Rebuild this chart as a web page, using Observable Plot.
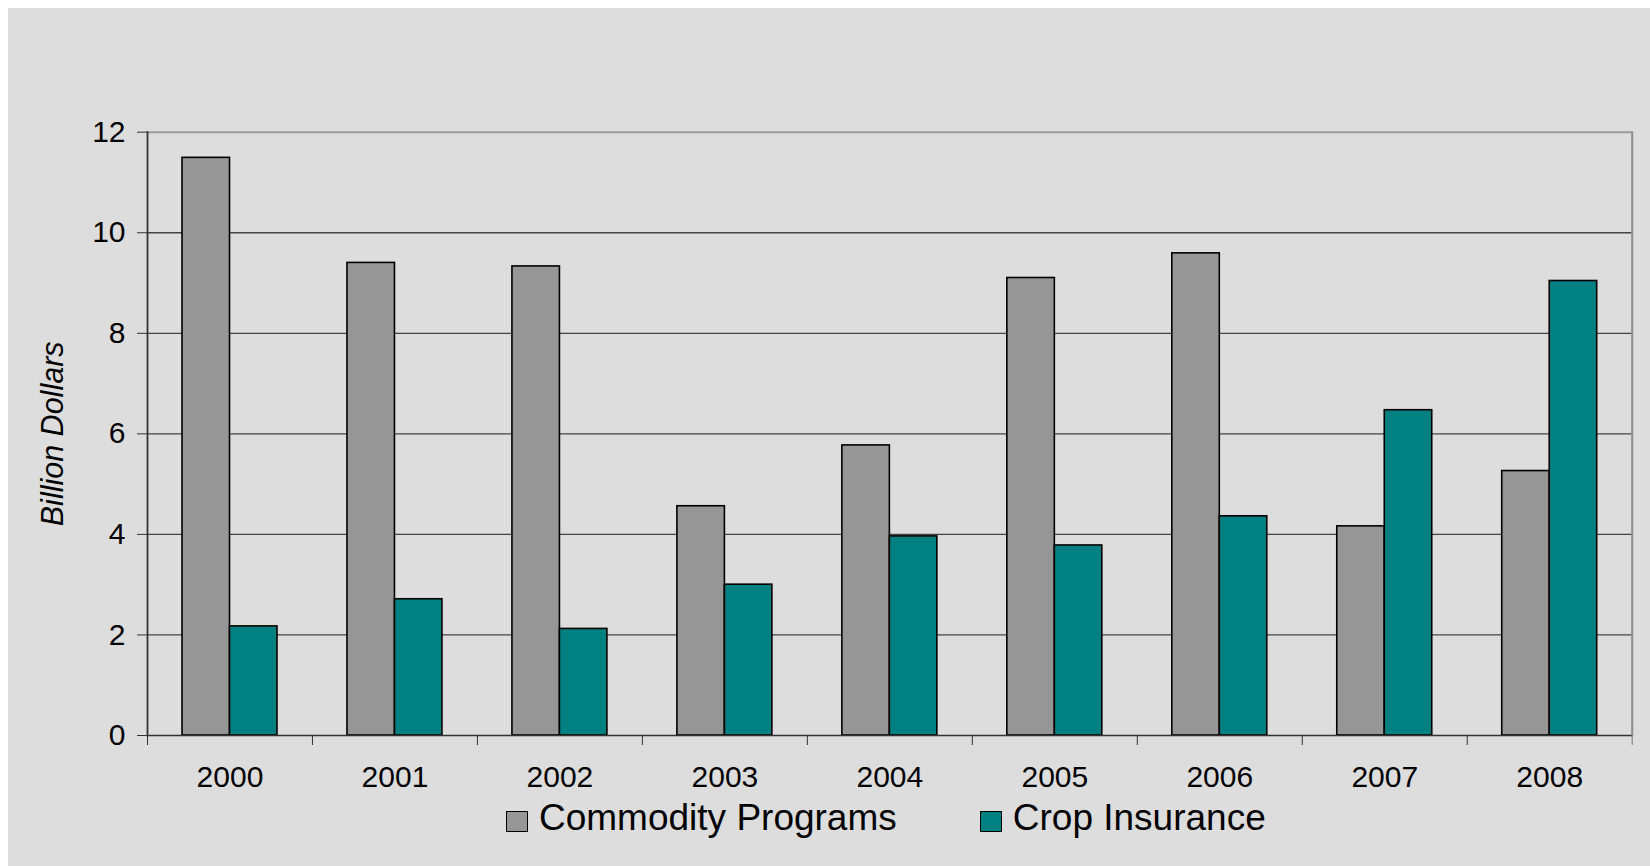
<!DOCTYPE html>
<html>
<head>
<meta charset="utf-8">
<script src="https://cdn.jsdelivr.net/npm/d3@7"></script>
<script src="https://cdn.jsdelivr.net/npm/@observablehq/plot@0.6"></script>
<style>
  html, body { margin: 0; padding: 0; background: #ffffff; }
  #panel {
    position: absolute; left: 8px; top: 8px; width: 1642px; height: 858px;
    background: #dddddd; overflow: hidden;
    font-family: "Liberation Sans", Arial, sans-serif;
  }
  #chart { position: absolute; left: 0; top: 0; }
  #legend {
    position: absolute; left: 498px; top: 789px;
    display: flex; align-items: center; color: #000; font-size: 37px;
  }
  .swatch {
    width: 22px; height: 21px; box-sizing: border-box;
    border: 1.5px solid #000; margin-right: 11px; position: relative; top: 3px;
  }
  .item { display: flex; align-items: center; }
  .item + .item { margin-left: 83px; }
</style>
</head>
<body>
<div id="panel">
  <div id="chart"></div>
  <div id="legend"></div>
</div>
<script>
// Federal outlays, billion dollars, by fiscal year
const years = ["2000", "2001", "2002", "2003", "2004", "2005", "2006", "2007", "2008"];
const commodityPrograms = [11.49, 9.40, 9.33, 4.56, 5.77, 9.10, 9.59, 4.16, 5.26];
const cropInsurance = [2.17, 2.71, 2.12, 3.00, 3.96, 3.78, 4.36, 6.47, 9.04];
const seriesNames = ["Commodity Programs", "Crop Insurance"];
const seriesColors = ["#969696", "#008080"];
const yTicks = [0, 2, 4, 6, 8, 10, 12];

const rows = years.map((year, i) => ({
  year,
  commodity: commodityPrograms[i],
  insurance: cropInsurance[i]
}));

const W = 1642, H = 790;
const mL = 139, mR = 18.3, mT = 123.7, mB = 63;
const step = (W - mL - mR) / years.length;
const barW = 47.5, edgeGap = 35;
const font = "Liberation Sans, Arial, sans-serif";

const chart = Plot.plot({
  width: W,
  height: H,
  marginLeft: mL,
  marginRight: mR,
  marginTop: mT,
  marginBottom: mB,
  style: { background: "transparent", fontFamily: font, color: "#000", overflow: "visible" },
  x: { type: "band", domain: years, paddingInner: 0, paddingOuter: 0, round: false },
  y: { domain: [0, 12] },
  marks: [
    // horizontal gridlines
    Plot.ruleY(yTicks.filter(v => v > 0 && v < 12), { stroke: "#444", strokeWidth: 1.3 }),
    Plot.ruleY([12], { stroke: "#9a9a9a", strokeWidth: 2 }),
    Plot.frame({ anchor: "right", stroke: "#8c8c8c", strokeWidth: 2 }),
    // bars
    Plot.barY(rows, {
      x: "year", y: "commodity", fill: seriesColors[0], stroke: "#000", strokeWidth: 1.6,
      insetLeft: edgeGap, insetRight: step - edgeGap - barW
    }),
    Plot.barY(rows, {
      x: "year", y: "insurance", fill: seriesColors[1], stroke: "#000", strokeWidth: 1.6,
      insetLeft: edgeGap + barW, insetRight: edgeGap
    }),
    // axis lines
    Plot.ruleY([0], { stroke: "#333", strokeWidth: 1.5 }),
    Plot.frame({ anchor: "left", stroke: "#333", strokeWidth: 1.8 }),
    // y axis
    Plot.axisY({
      ticks: yTicks, tickSize: 10, tickPadding: 12, fontSize: 30,
      stroke: "#333", label: null, tickFormat: d => String(d)
    }),
    // category boundary ticks
    Plot.axisX({ ticks: years, tickSize: 10, dx: -step / 2, tickFormat: () => "", stroke: "#333", label: null }),
    Plot.axisX({ ticks: [years[years.length - 1]], tickSize: 10, dx: step / 2, tickFormat: () => "", stroke: "#777", label: null }),
    // year labels
    Plot.axisX({ tickSize: 0, tickPadding: 30, fontSize: 30, label: null }),
    // y axis title
    Plot.text(["Billion Dollars"], {
      frameAnchor: "left", textAnchor: "middle", lineAnchor: "middle",
      rotate: -90, dx: -94, fontSize: 30.5,
      fontStyle: "italic", fill: "#000", text: d => d
    })
  ]
});
document.getElementById("chart").appendChild(chart);

// legend below the chart
const legend = document.getElementById("legend");
seriesNames.forEach((name, i) => {
  const item = document.createElement("div");
  item.className = "item";
  const sw = document.createElement("div");
  sw.className = "swatch";
  sw.style.background = seriesColors[i];
  const label = document.createElement("span");
  label.textContent = name;
  item.appendChild(sw);
  item.appendChild(label);
  legend.appendChild(item);
});
</script>
</body>
</html>
